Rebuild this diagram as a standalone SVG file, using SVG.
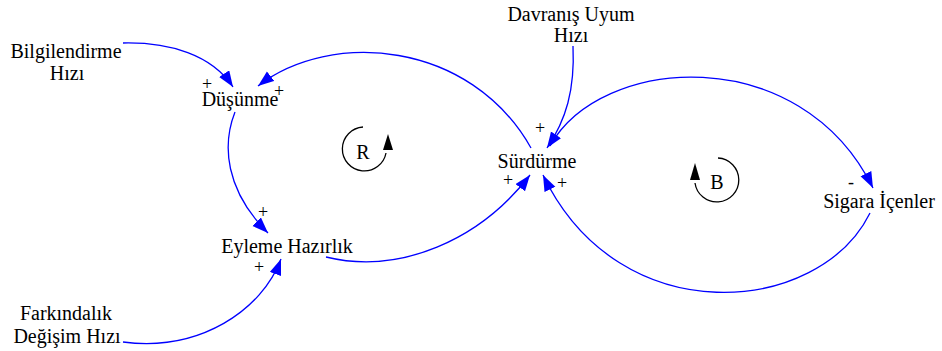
<svg xmlns="http://www.w3.org/2000/svg" width="942" height="351" viewBox="0 0 942 351">
<style>
text{font-family:'Liberation Serif','Times New Roman',serif;font-size:20px;fill:#000;text-anchor:middle}
.c{fill:none;stroke:#0000ff;stroke-width:1.3;marker-end:url(#ah)}
.p{font-size:18px}
.loop{fill:none;stroke:#000;stroke-width:1.3}
</style>
<defs>
<marker id="ah" markerUnits="userSpaceOnUse" markerWidth="18" markerHeight="14" refX="16" refY="6" orient="auto">
<path d="M0,0 L16,6 L0,12 Z" fill="#0000ff"/>
</marker>
</defs>
<rect width="942" height="351" fill="#fff"/>
<g id="connectors">
<path class="c" d="M123,43 C170,42 212,55 233,87"/>
<path class="c" d="M531,148 C470,40 330,30 258,86"/>
<path class="c" d="M235,112 C222,145 225,190 268,233"/>
<path class="c" d="M326,257 C400,275 480,240 530,175"/>
<path class="c" d="M123,342 C200,352 262,310 281,259"/>
<path class="c" d="M573,46 C575,90 566,120 547,148"/>
<path class="c" d="M550,146 C600,55 800,40 873,188"/>
<path class="c" d="M870,213 C820,315 620,335 543,175"/>
</g>
<g id="polarities">
<text class="p" x="207" y="90">+</text>
<text class="p" x="279" y="97">+</text>
<text class="p" x="263" y="218">+</text>
<text class="p" x="259" y="273">+</text>
<text class="p" x="540" y="134">+</text>
<text class="p" x="508" y="186">+</text>
<text class="p" x="562" y="189">+</text>
<text class="p" x="851" y="188">-</text>
</g>
<g id="bilgilendirme"><text x="66" y="58">Bilgilendirme</text><text x="67" y="80">Hızı</text></g>
<g id="dusunme"><text x="240" y="106">Düşünme</text></g>
<g id="davranis"><text x="571" y="21">Davranış Uyum</text><text x="571" y="42">Hızı</text></g>
<g id="surdurme"><text x="537" y="168">Sürdürme</text></g>
<g id="eyleme"><text x="287" y="253">Eyleme Hazırlık</text></g>
<g id="sigara"><text x="879" y="208">Sigara İçenler</text></g>
<g id="farkindalik"><text x="66" y="320">Farkındalık</text><text x="67" y="343">Değişim Hızı</text></g>
<g id="loopR">
<path class="loop" d="M363,127 A22,22 0 1,0 386,153"/>
<path d="M388,134 L393,150 L383,150 Z" fill="#000"/>
<text x="363" y="159">R</text>
</g>
<g id="loopB">
<path class="loop" d="M718,158 A22,22 0 1,1 695,183"/>
<path d="M695,163 L700,180 L690,180 Z" fill="#000"/>
<text x="717" y="189">B</text>
</g>
</svg>
